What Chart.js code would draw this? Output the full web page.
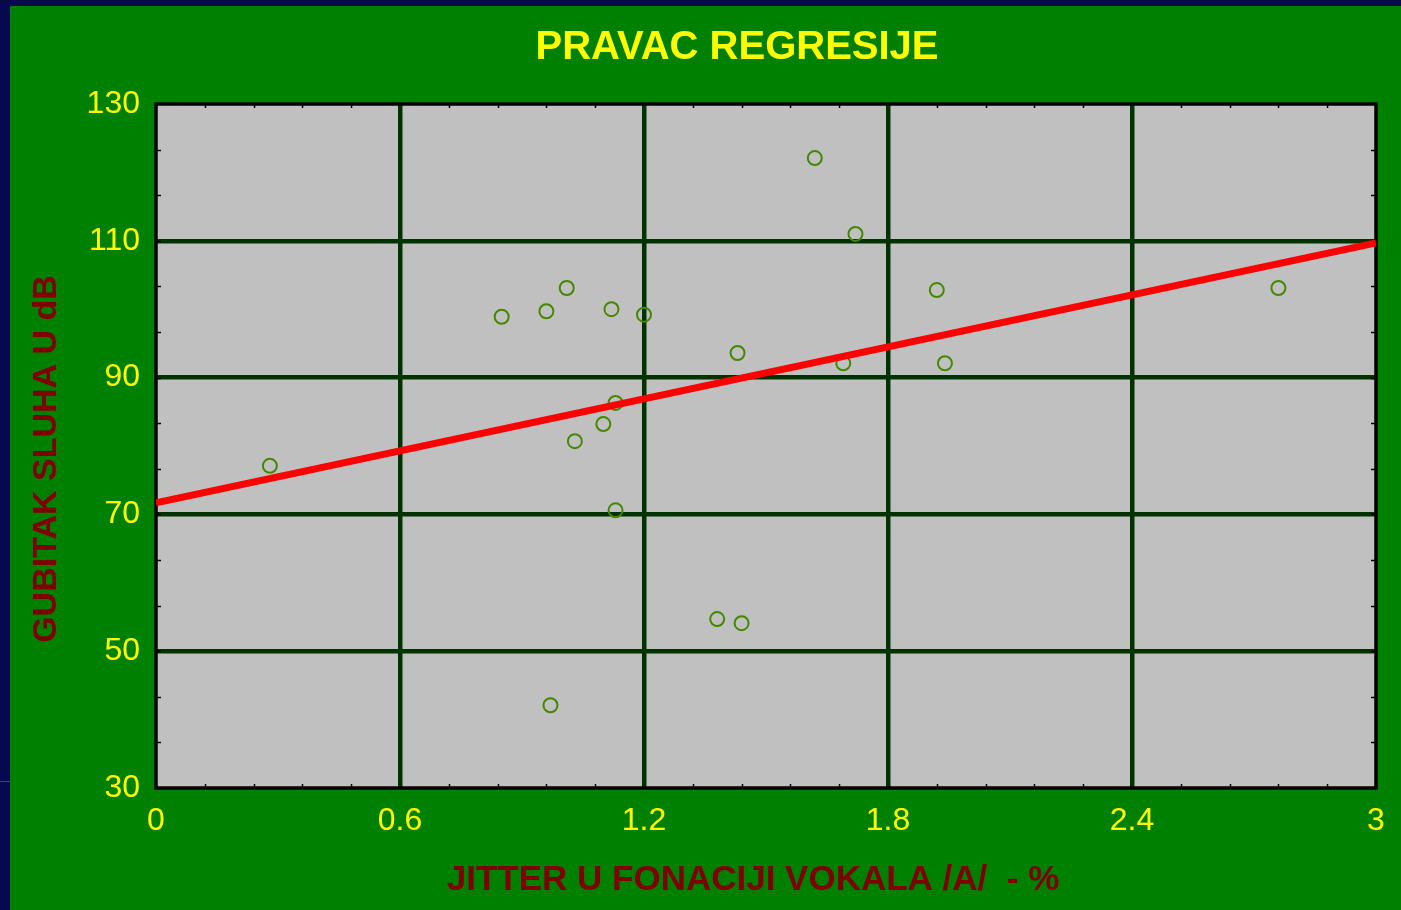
<!DOCTYPE html>
<html>
<head>
<meta charset="utf-8">
<script src="https://cdn.jsdelivr.net/npm/chart.js@4"></script>
<style>
  html, body { margin: 0; padding: 0; background: #08084c; width: 1401px; height: 910px; overflow: hidden; }
  #wrap { position: absolute; left: 10px; top: 6px; width: 1391px; height: 904px; background: #008000; }
  #blueLine { position: absolute; left: 0; top: 781px; width: 1401px; height: 1px; background: #3a2fd0; }
</style>
</head>
<body>
<div id="blueLine"></div>
<div id="wrap"><canvas id="regChart" width="1391" height="904"></canvas></div>
<script>
// jitter (%) vs hearing loss (dB)
const jitter = [0.28, 0.85, 0.96, 1.01, 1.12, 1.2, 1.13, 1.1, 1.03, 1.13, 0.97, 1.38, 1.44, 1.43, 1.62, 1.72, 1.69, 1.92, 1.94, 2.76];
const hearingLoss = [77.1, 98.9, 99.7, 103.1, 100.0, 99.2, 86.3, 83.2, 80.7, 70.6, 42.1, 54.7, 54.1, 93.6, 122.1, 111.0, 92.1, 102.8, 92.1, 103.1];

// regression line end points
const lineX = [0, 3];
const lineY = [71.7, 109.7];

const xTickLabels = ["0", "0.6", "1.2", "1.8", "2.4", "3"];
const yTickLabels = ["30", "50", "70", "90", "110", "130"];

const chartTitle = "PRAVAC REGRESIJE";
const xTitle = "JITTER U FONACIJI VOKALA /A/  - %";
const yTitle = "GUBITAK SLUHA U dB";

const points = jitter.map((x, i) => ({ x: x, y: hearingLoss[i] }));
const linePts = lineX.map((x, i) => ({ x: x, y: lineY[i] }));

const FONT = "Arial, 'Liberation Sans', sans-serif";

const plotFrame = {
  id: "plotFrame",
  beforeDraw(chart) {
    const { ctx, chartArea: a } = chart;
    ctx.save();
    ctx.fillStyle = "#c0c0c0";
    ctx.fillRect(a.left, a.top, a.right - a.left, a.bottom - a.top);
    ctx.restore();
  },
  beforeDatasetsDraw(chart) {
    const { ctx, chartArea: a, scales } = chart;
    ctx.save();
    ctx.strokeStyle = "#000";
    ctx.lineWidth = 1.5;
    // minor ticks
    for (let i = 1; i < 25; i++) {
      if (i % 5 === 0) continue;
      const px = Math.round(scales.x.getPixelForValue(i * 0.12)) + 0.5;
      ctx.beginPath();
      ctx.moveTo(px, a.top); ctx.lineTo(px, a.top + 4);
      ctx.moveTo(px, a.bottom); ctx.lineTo(px, a.bottom - 4);
      ctx.stroke();
    }
    for (let i = 1; i < 15; i++) {
      const py = Math.round(scales.y.getPixelForValue(30 + i * 20 / 3)) + 0.5;
      ctx.beginPath();
      ctx.moveTo(a.left, py); ctx.lineTo(a.left + 5, py);
      ctx.moveTo(a.right, py); ctx.lineTo(a.right - 5, py);
      ctx.stroke();
    }
    ctx.lineWidth = 3.5;
    ctx.strokeRect(a.left, a.top, a.right - a.left, a.bottom - a.top);
    ctx.restore();
  },
  afterDraw(chart) {
    const ctx = chart.ctx;
    ctx.save();
    ctx.textAlign = "center";
    ctx.textBaseline = "middle";
    ctx.fillStyle = "#ffff00";
    ctx.font = "bold 40px " + FONT;
    ctx.fillText(chartTitle, 727, 42);
    ctx.fillStyle = "#800000";
    ctx.font = "bold 35px " + FONT;
    ctx.fillText(xTitle, 743, 874);
    ctx.font = "bold 34px " + FONT;
    ctx.translate(37, 453);
    ctx.rotate(-Math.PI / 2);
    ctx.fillText(yTitle, 0, 0);
    ctx.restore();
  }
};

new Chart(document.getElementById("regChart").getContext("2d"), {
  type: "scatter",
  data: {
    datasets: [
      {
        type: "line",
        label: "Regresija",
        data: linePts,
        borderColor: "#ff0000",
        borderWidth: 7,
        pointRadius: 0,
        fill: false,
      },
      {
        label: "Podaci",
        data: points,
        pointStyle: "circle",
        pointRadius: 7,
        borderWidth: 2,
        borderColor: "#448800",
        backgroundColor: "rgba(0,0,0,0)",
      },
    ],
  },
  options: {
    responsive: false,
    animation: false,
    devicePixelRatio: 1,
    layout: { padding: { left: 0, right: 25, top: 98, bottom: 0 } },
    scales: {
      x: {
        type: "linear",
        min: 0,
        max: 3,
        afterFit(scale) { scale.height = 122; },
        afterBuildTicks(scale) {
          scale.ticks = xTickLabels.map((t) => ({ value: parseFloat(t) }));
        },
        ticks: {
          color: "#ffff00",
          font: { family: FONT, size: 32 },
          padding: 14,
          maxRotation: 0,
          callback: (v, i) => xTickLabels[i],
        },
        grid: {
          color: "#003300",
          lineWidth: (c) => (c.tick && (c.tick.value === 0 || c.tick.value === 3) ? 0 : 4.5),
          drawTicks: false,
        },
        border: { display: false },
      },
      y: {
        type: "linear",
        min: 30,
        max: 130,
        afterFit(scale) { scale.width = 146; },
        afterBuildTicks(scale) {
          scale.ticks = yTickLabels.map((t) => ({ value: parseFloat(t) }));
        },
        ticks: {
          color: "#ffff00",
          font: { family: FONT, size: 32 },
          padding: 16,
          callback: (v, i) => yTickLabels[i],
        },
        grid: {
          color: "#003300",
          lineWidth: (c) => (c.tick && (c.tick.value === 30 || c.tick.value === 130) ? 0 : 4.5),
          drawTicks: false,
        },
        border: { display: false },
      },
    },
    plugins: {
      legend: { display: false },
      tooltip: { enabled: false },
    },
  },
  plugins: [plotFrame],
});
</script>
</body>
</html>
